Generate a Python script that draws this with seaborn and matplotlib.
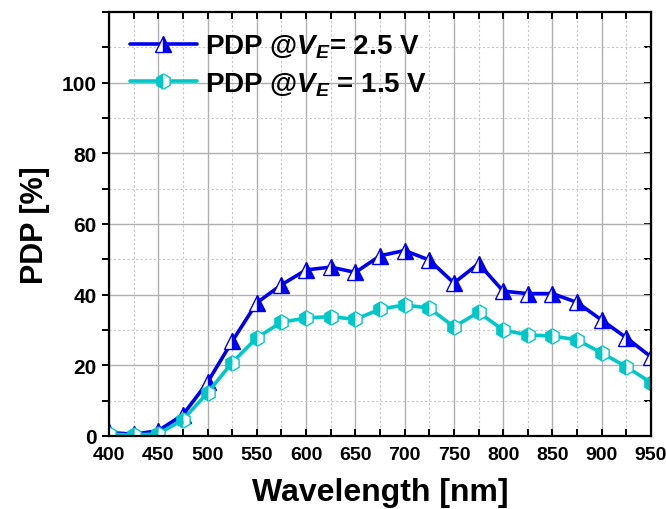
import numpy as np
import pandas as pd
import matplotlib
matplotlib.use("Agg")
import matplotlib.pyplot as plt
import seaborn as sns
from matplotlib.ticker import MultipleLocator

wavelength = [400, 425, 450, 475, 500, 525, 550, 575, 600, 625, 650, 675,
              700, 725, 750, 775, 800, 825, 850, 875, 900, 925, 950]
pdp_25 = [1.0, 0.5, 1.5, 6.0, 15.2, 26.8, 37.7, 42.8, 47.0, 47.8, 46.3, 51.0,
          52.5, 49.8, 43.3, 48.8, 41.0, 40.3, 40.3, 37.8, 32.8, 27.8, 22.4]
pdp_15 = [0.5, 0.3, 0.6, 4.6, 12.2, 20.8, 27.8, 32.2, 33.4, 33.8, 33.0, 35.9,
          37.1, 36.2, 30.9, 35.0, 30.0, 28.6, 28.3, 27.2, 23.5, 19.6, 15.1]
labels = [r"PDP @$V_E$= 2.5 V", r"PDP @$V_E$ = 1.5 V"]

sns.set_style("white")
plt.rcParams["font.family"] = ["Liberation Sans", "DejaVu Sans"]
plt.rcParams["font.weight"] = "bold"
plt.rcParams["text.color"] = "black"
plt.rcParams["axes.labelcolor"] = "black"
plt.rcParams["xtick.color"] = "black"
plt.rcParams["ytick.color"] = "black"
plt.rcParams["mathtext.fontset"] = "custom"
plt.rcParams["mathtext.it"] = "Liberation Sans:italic:bold"
plt.rcParams["mathtext.rm"] = "Liberation Sans:bold"

fig = plt.figure(figsize=(6.66, 5.10), dpi=100)
ax = fig.add_axes([109/666, 1-437/510, (651-109)/666, (437-13)/510])

blue = "#0000F0"
cyan = "#00C8C8"

sns.lineplot(x=wavelength, y=pdp_25, ax=ax, color=blue, linewidth=2.6,
             marker="^", markersize=11, fillstyle="right",
             markerfacecoloralt="white", markeredgecolor=blue,
             markeredgewidth=1.0, label=labels[0])
sns.lineplot(x=wavelength, y=pdp_15, ax=ax, color=cyan, linewidth=2.6,
             marker="h", markersize=11, fillstyle="left",
             markerfacecoloralt="white", markeredgecolor=cyan,
             markeredgewidth=1.0, label=labels[1])

ax.set_xlim(400, 950)
ax.set_ylim(0, 120)
ax.xaxis.set_major_locator(MultipleLocator(50))
ax.xaxis.set_minor_locator(MultipleLocator(25))
ax.set_yticks([0, 20, 40, 60, 80, 100])
ax.set_yticks(np.arange(0, 121, 10), minor=True)

ax.grid(True, which="major", color="#b0b0b0", linewidth=1.0, linestyle="-")
ax.grid(True, which="minor", color="#c8c8c8", linewidth=0.8, linestyle=(0, (2, 2)))
ax.set_axisbelow(True)

for s in ax.spines.values():
    s.set_visible(True)
    s.set_color("black")
    s.set_linewidth(1.6)

ax.tick_params(axis="x", which="both", direction="in", top=True, bottom=True,
               length=5, width=1.4, labelsize=14, pad=7, color="black",
               labelcolor="black")
ax.tick_params(axis="y", which="both", direction="out", left=True, right=False,
               length=5, width=1.4, labelsize=15, pad=4, color="black",
               labelcolor="black")
for lab in ax.get_xticklabels() + ax.get_yticklabels():
    lab.set_fontweight("bold")

# right-side inward ticks
ax2 = ax.secondary_yaxis("right")
ax2.set_yticks(np.arange(0, 121, 10))
ax2.tick_params(direction="in", length=5, width=1.4, labelright=False)

ax.set_xlabel("Wavelength [nm]", fontsize=23, fontweight="bold", labelpad=10,
              color="black")
ax.set_ylabel("PDP [%]", fontsize=22, fontweight="bold", labelpad=8,
              color="black")

leg = ax.legend(loc="upper left", frameon=False, fontsize=20,
                handlelength=2.4, handletextpad=0.3, borderaxespad=0.35,
                labelspacing=0.35, bbox_to_anchor=(0.0, 1.0))
for t in leg.get_texts():
    t.set_fontweight("bold")
    t.set_color("black")

fig.savefig("out.png", dpi=100)
